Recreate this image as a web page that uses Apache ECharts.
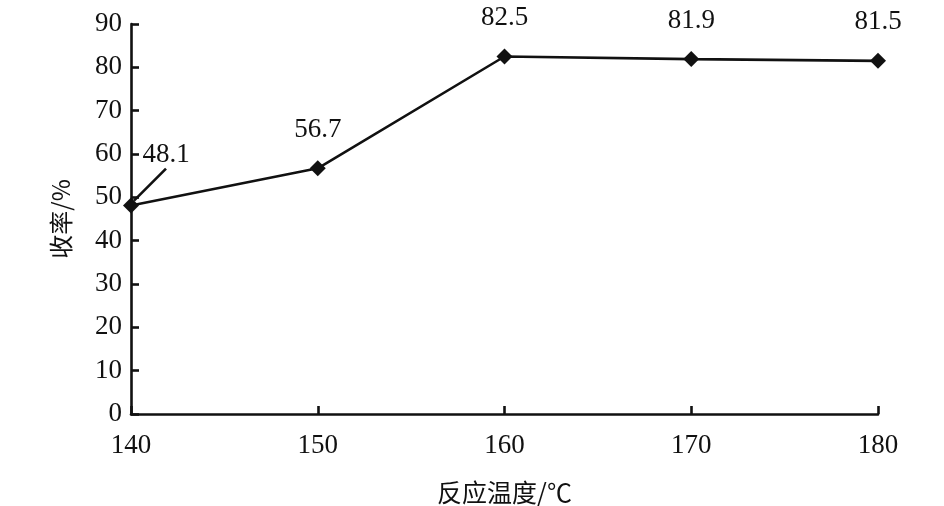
<!DOCTYPE html>
<html>
<head>
<meta charset="utf-8">
<title>收率与反应温度</title>
<script src="https://cdn.jsdelivr.net/npm/echarts@6/dist/echarts.min.js"></script>
<style>
    html, body { margin: 0; padding: 0; background: #fff; }
    #main { width: 944px; height: 506px; }
</style>
</head>
<body>
<div id="main"></div>
<script>
// 数据
var temps = [140, 150, 160, 170, 180];
var yields = [48.1, 56.7, 82.5, 81.9, 81.5];
var xname = '反应温度/℃';
var yname = '收率/%';

var serif = '"Liberation Serif", "Times New Roman", "Noto Sans CJK SC", serif';
var cjk = '"Noto Sans CJK SC", "Liberation Serif", serif';

var seriesData = [];
for (var i in temps) {
    var item = { value: [temps[i], yields[i]] };
    // 第一个点的标签移到右上方，用引线连接
    if (i == 0) {
        item.labelLine = { show: true, length2: 0, lineStyle: { color: '#111', width: 2.6 } };
    }
    seriesData.push(item);
}

var myChart = echarts.init(document.getElementById('main'));
var option = {
    backgroundColor: '#fff',
    animation: false,
    grid: { left: 131, right: 66, top: 24, bottom: 92, outerBoundsMode: 'none', containLabel: false },
    xAxis: {
        type: 'value',
        min: 140,
        max: 180,
        interval: 10,
        name: xname,
        nameLocation: 'middle',
        nameGap: 66,
        nameTextStyle: { fontFamily: cjk, fontSize: 25, color: '#111' },
        axisLine: { lineStyle: { color: '#111', width: 2.6 } },
        axisTick: { inside: true, length: 8, lineStyle: { color: '#111', width: 2.6 } },
        axisLabel: { margin: 18, fontFamily: serif, fontSize: 27, color: '#111' },
        splitLine: { show: false }
    },
    yAxis: {
        type: 'value',
        min: 0,
        max: 90,
        interval: 10,
        name: yname,
        nameLocation: 'middle',
        nameRotate: 90,
        nameGap: 58,
        nameTextStyle: { fontFamily: cjk, fontSize: 24, color: '#111' },
        axisLine: { show: true, lineStyle: { color: '#111', width: 2.6 } },
        axisTick: { show: true, inside: true, length: 8, lineStyle: { color: '#111', width: 2.6 } },
        axisLabel: { margin: 9, fontFamily: serif, fontSize: 27, color: '#111' },
        splitLine: { show: false }
    },
    series: [{
        type: 'line',
        data: seriesData,
        symbol: 'diamond',
        symbolSize: 16,
        lineStyle: { color: '#111', width: 2.6 },
        itemStyle: { color: '#111' },
        label: {
            show: true,
            position: 'top',
            distance: 17,
            fontFamily: serif,
            fontSize: 27,
            color: '#111',
            formatter: function (params) {
                // 第一个标签上方留空，使引线从标签下边中点引出
                if (params.dataIndex === 0) {
                    return '{gap|}\n{v|' + params.value[1] + '}';
                }
                return params.value[1];
            },
            rich: {
                gap: { height: 50 },
                v: { fontFamily: serif, fontSize: 27, color: '#111' }
            }
        },
        labelLine: { show: false },
        labelLayout: function (params) {
            if (params.dataIndex === 0) {
                return { dx: 35, dy: -12 };
            }
        }
    }]
};
myChart.setOption(option);
</script>
</body>
</html>
